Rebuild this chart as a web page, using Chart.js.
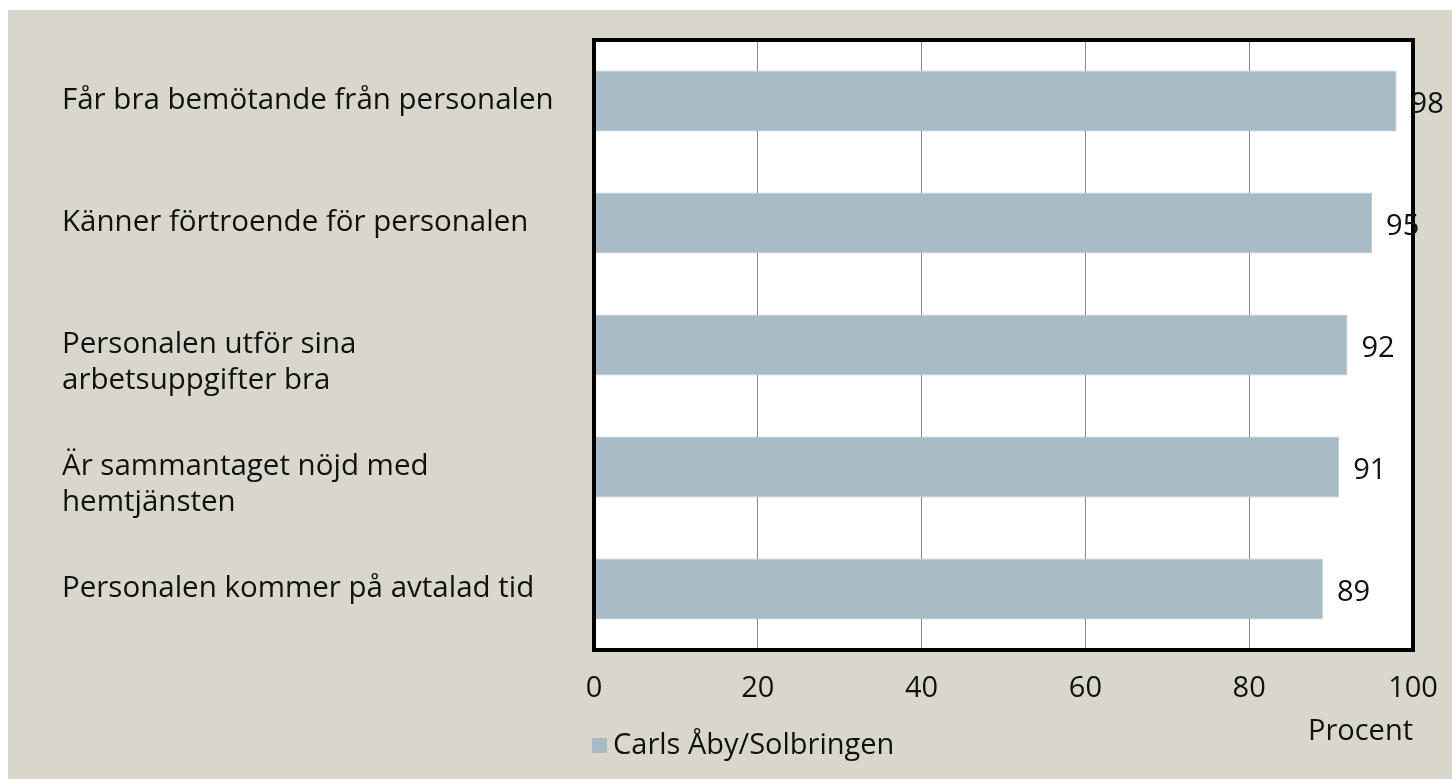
<!DOCTYPE html>
<html>
<head>
<meta charset="utf-8">
<script src="https://cdn.jsdelivr.net/npm/chart.js@4"></script>
<style>
  html, body { margin: 0; padding: 0; background: #fff; }
  #wrap { position: absolute; left: 8px; top: 10px; width: 1444px; height: 769px; background: #d9d7cb; }
</style>
</head>
<body>
<div id="wrap"><canvas id="myChart"></canvas></div>
<script>
const ctx = document.getElementById("myChart").getContext("2d");

// two-line labels sit a little lower than their bar in the original, hence the leading blank line
const labels = [
  "Får bra bemötande från personalen",
  "Känner förtroende för personalen",
  ["", "Personalen utför sina", "arbetsuppgifter bra"],
  ["", "Är sammantaget nöjd med", "hemtjänsten"],
  "Personalen kommer på avtalad tid"
];
const values = [98, 95, 92, 91, 89];
const seriesName = "Carls Åby/Solbringen";
const xTicks = [0, 20, 40, 60, 80, 100];

const FONT = "'Open Sans'";
const FS = 29;

// white plot area + thick black frame + value labels + legend
const frame = {
  id: "frame",
  beforeDraw(chart) {
    const a = chart.chartArea, c = chart.ctx;
    c.save();
    c.fillStyle = "#fff";
    c.fillRect(a.left, a.top, a.right - a.left, a.bottom - a.top);
    c.restore();
  },
  afterDatasetsDraw(chart) {
    const a = chart.chartArea, c = chart.ctx;
    c.save();
    c.strokeStyle = "#000";
    c.lineWidth = 4;
    c.strokeRect(a.left, a.top, a.right - a.left, a.bottom - a.top);
    c.fillStyle = "#111";
    c.font = FS + "px " + FONT;
    c.textBaseline = "middle";
    c.textAlign = "left";
    chart.getDatasetMeta(0).data.forEach((bar, i) => {
      c.fillText(String(values[i]), bar.x + 14, bar.y + 4);
    });
    const lx = a.left - 2, ly = chart.height - 33;
    c.fillStyle = "#a6bbc6";
    c.fillRect(lx, ly - 8, 15, 15);
    c.fillStyle = "#111";
    c.fillText(seriesName, lx + 21, ly);
    c.restore();
  }
};

const data = {
  labels,
  datasets: [{
    label: seriesName,
    data: values,
    backgroundColor: "#a6bbc6",
    borderColor: "#bccad2",
    borderWidth: 1,
    categoryPercentage: 1,
    barPercentage: 0.5
  }]
};

const config = {
  type: "bar",
  data: data,
  plugins: [frame],
  options: {
    indexAxis: "y",
    responsive: true,
    maintainAspectRatio: false,
    animation: false,
    layout: { padding: { left: 54, top: 30, right: 39, bottom: 0 } },
    plugins: {
      legend: { display: false },
      tooltip: { enabled: false }
    },
    scales: {
      x: {
        min: 0,
        max: 100,
        afterBuildTicks: (scale) => {
          scale.ticks = xTicks.map(v => ({ value: v }));
        },
        afterFit: (scale) => {
          scale.height = 129;
          scale.paddingLeft = 0;
          scale.paddingRight = 0;
        },
        grid: { color: "#8a8a8a", lineWidth: 1, drawTicks: false },
        border: { display: false },
        ticks: {
          color: "#111",
          font: { family: FONT, size: FS },
          padding: 21,
          maxRotation: 0
        },
        title: {
          display: true,
          text: "Procent",
          align: "end",
          color: "#111",
          font: { family: FONT, size: FS },
          padding: { top: 0, bottom: 30 }
        }
      },
      y: {
        afterFit: (scale) => { scale.width = 532; },
        grid: { display: false },
        border: { display: false },
        ticks: {
          crossAlign: "far",
          color: "#111",
          font: { family: FONT, size: 29.5, lineHeight: 1.21 },
          padding: 0
        }
      }
    }
  }
};

const myChart = new Chart(ctx, config);
</script>
</body>
</html>
